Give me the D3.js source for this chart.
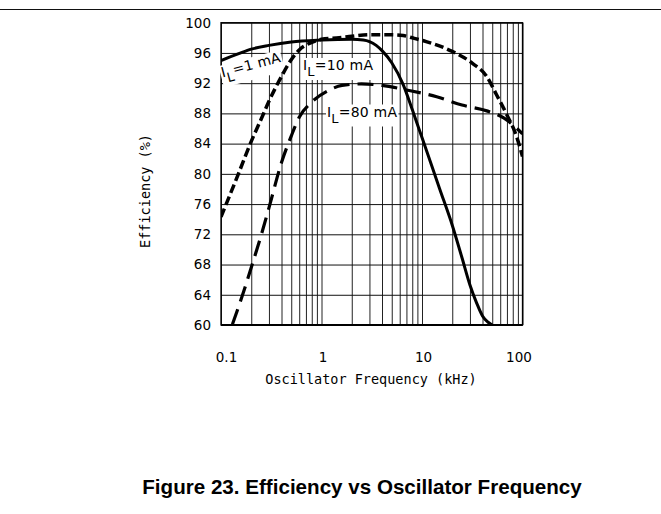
<!DOCTYPE html>
<html><head><meta charset="utf-8">
<script src="https://cdn.jsdelivr.net/npm/d3@7"></script>
<style>html,body{margin:0;padding:0;background:#fff;}svg{display:block;}</style>
</head><body>
<svg id="chart" width="661" height="514"></svg>
<script>
// ---- data ----
const freq1mA = [0.1,0.15,0.2,0.3,0.5,1,2,2.6,3,3.5,4,5,6.5,8,10,15,20,25,30,35,40,45,50];
const eff1mA  = [95.0,95.9,96.5,97.0,97.45,97.7,97.8,97.7,97.5,97.0,96.3,94.7,91.8,88.5,84.8,78.0,73.2,68.9,65.3,62.9,61.2,60.4,60.0];
const freq10mA = [0.1,0.15,0.2,0.25,0.3,0.4,0.5,0.6,0.8,1,1.5,2,3,5,6.5,8,11,20,32,44,55,70,87,100];
const eff10mA  = [74.3,80.1,84.3,87.2,89.6,92.9,95.1,96.4,97.4,97.8,98.0,98.2,98.4,98.4,98.3,98.0,97.5,96.2,94.6,92.9,90.5,87.8,85.0,82.3];
const freq80mA = [0.13,0.155,0.2,0.25,0.3,0.4,0.5,0.6,0.8,1.2,1.6,2.5,4,7,14,25,45,65,80,100];
const eff80mA  = [60.1,63.0,67.6,71.8,75.5,81.5,85.0,87.5,89.5,91.1,91.7,91.9,91.7,91.1,90.2,89.1,88.3,87.4,86.5,85.3];
const xTickValues = [0.1,1,10,100];
const xTickLabels = ["0.1","1","10","100"];
const yTickValues = [60,64,68,72,76,80,84,88,92,96,100];
const seriesLabels = ["1 mA","10 mA","80 mA"];
const xTitle = "Oscillator Frequency (kHz)";
const yTitle = "Efficiency (%)";
const caption = "Figure 23. Efficiency vs Oscillator Frequency";

// ---- layout ----
const svg = d3.select("#chart");
const L = 221, R = 522.5, T = 22.7, B = 325;
const x = d3.scaleLog().domain([0.1,100]).range([L,R]);
const y = d3.scaleLinear().domain([60,100]).range([B,T]);
const mono = "'DejaVu Sans Mono', 'Liberation Mono', monospace";
const sans = "'DejaVu Sans', sans-serif";

// top rule
svg.append("line").attr("x1",0).attr("x2",661).attr("y1",9.5).attr("y2",9.5)
  .attr("stroke","#111").attr("stroke-width",1.2);

// minor x grid values
const minor = [];
[0.1,1,10].forEach(d => { for (let k=1;k<10;k++) minor.push(+(d*k).toPrecision(3)); });
minor.push(100);

// vertical grid via axis
const gx = svg.append("g").attr("transform",`translate(0,${T})`)
  .call(d3.axisBottom(x).tickValues(minor).tickSize(B-T).tickFormat(""));
gx.select(".domain").remove();
gx.selectAll(".tick line").attr("stroke","#222").attr("stroke-width",1);

// horizontal grid via axis
const gy = svg.append("g").attr("transform",`translate(${L},0)`)
  .call(d3.axisLeft(y).tickValues(yTickValues).tickSize(-(R-L)).tickFormat(""));
gy.select(".domain").remove();
gy.selectAll(".tick line").attr("stroke","#111").attr("stroke-width",1);

// frame
svg.append("rect").attr("x",L).attr("y",T).attr("width",R-L).attr("height",B-T)
  .attr("fill","none").attr("stroke","#000").attr("stroke-width",1.3);
svg.append("line").attr("x1",L).attr("x2",R).attr("y1",B).attr("y2",B)
  .attr("stroke","#000").attr("stroke-width",2);

// tick labels
const ax = svg.append("g").attr("transform",`translate(0,${B})`)
  .call(d3.axisBottom(x).tickValues(xTickValues).tickSize(0).tickPadding(0)
    .tickFormat((d,i)=>xTickLabels[i]));
ax.select(".domain").remove();
ax.selectAll(".tick text").attr("font-family",sans).attr("font-size",13.5).attr("fill","#000")
  .attr("y",37).attr("dy",0)
  .attr("dx",(d,i)=> i===0 ? 5 : (i===xTickValues.length-1 ? -4 : 1));

const ay = svg.append("g").attr("transform",`translate(${L},0)`)
  .call(d3.axisLeft(y).tickValues(yTickValues).tickSize(0).tickPadding(10).tickFormat(d3.format("d")));
ay.select(".domain").remove();
ay.selectAll(".tick text").attr("font-family",sans).attr("font-size",13.5).attr("fill","#000");

// axis titles
svg.append("text").attr("x",371).attr("y",384).attr("text-anchor","middle")
  .attr("font-family",mono).attr("font-size",13.5).attr("fill","#000").text(xTitle);
svg.append("text").attr("transform","translate(150,191) rotate(-90)").attr("text-anchor","middle")
  .attr("font-family",mono).attr("font-size",13.5).attr("fill","#000").text(yTitle);

// caption
svg.append("text").attr("x",362).attr("y",494).attr("text-anchor","middle")
  .attr("font-family","'Liberation Sans', Arial, sans-serif").attr("font-weight","bold")
  .attr("font-size",20.6).attr("fill","#000").text(caption);

// series labels (with white boxes)
function label(tx, ty, rot, str) {
  const g = svg.append("g").attr("transform",`translate(${tx},${ty}) rotate(${rot})`);
  const bg = g.append("rect").attr("fill","#fff");
  const t = g.append("text").attr("font-family",sans).attr("font-size",14)
    .attr("letter-spacing",0.2).attr("fill","#000");
  t.append("tspan").text("I");
  t.append("tspan").attr("dy",6).attr("font-size",13).text("L");
  t.append("tspan").attr("dy",-6).text("=" + str);
  const bb = t.node().getBBox();
  bg.attr("x",bb.x-1).attr("y",bb.y+1).attr("width",bb.width+2).attr("height",bb.height);
}
label(222.5, 77.5, -15, seriesLabels[0]);
label(303, 70, 0, seriesLabels[1]);
label(327, 116.5, 0, seriesLabels[2]);

// curves
const line = d3.line().x(d=>x(d[0])).y(d=>y(d[1])).curve(d3.curveMonotoneX);
const clip = svg.append("clipPath").attr("id","plotclip").append("rect")
  .attr("x",L).attr("y",T-3).attr("width",R-L).attr("height",B-T+3);
const curves = svg.append("g").attr("clip-path","url(#plotclip)");
curves.append("path").datum(d3.zip(freq1mA,eff1mA)).attr("d",line)
  .attr("fill","none").attr("stroke","#000").attr("stroke-width",3);
curves.append("path").datum(d3.zip(freq10mA,eff10mA)).attr("d",line)
  .attr("fill","none").attr("stroke","#000").attr("stroke-width",3.5).attr("stroke-dasharray","9,4");
curves.append("path").datum(d3.zip(freq80mA,eff80mA)).attr("d",line)
  .attr("fill","none").attr("stroke","#000").attr("stroke-width",3.2).attr("stroke-dasharray","16,8");
</script>
</body></html>
